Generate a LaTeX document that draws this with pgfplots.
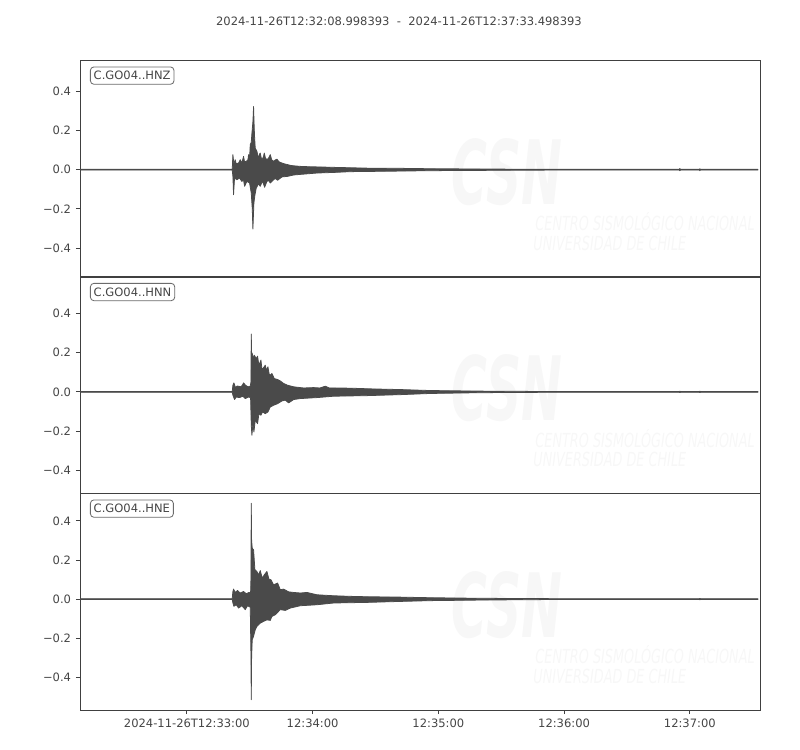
\documentclass[border=0pt]{standalone}
\usepackage{fontspec}
\setmainfont{DejaVu Sans}
\usepackage{pgfplots}
\pgfplotsset{compat=1.18}

\definecolor{ink}{gray}{0.29}
\definecolor{framecol}{gray}{0.25}
\definecolor{txt}{gray}{0.27}
\definecolor{boxcol}{gray}{0.42}
\definecolor{wm}{gray}{0.968}

\newcommand{\lbl}{\fontsize{8.3}{10}\selectfont}

\pgfplotsset{
  panel/.style={
    scale only axis, width=489.6pt, height=155.9pt,
    anchor=south west,
    xmin=0, xmax=324.5,
    axis line style={framecol, line width=0.6pt},
    tick style={framecol, line width=0.6pt},
    major tick length=2.9pt,
    tick align=outside,
    tick pos=left,
    ytick={-0.4,-0.2,0,0.2,0.4},
    yticklabels={−0.4,−0.2,0.0,0.2,0.4},
    ticklabel style={font=\lbl, text=txt},
  },
}
\tikzset{
  trace/.style={ink, fill=ink, line width=0.55pt, line join=round},
  chan/.style={draw=boxcol, rounded corners=2.5pt, fill=white, anchor=north west,
    inner xsep=2.4pt, inner ysep=3.1pt, text=txt, font=\lbl, line width=0.6pt},
}

% faint CSN watermark, same place in every panel
\newcommand{\watermark}{%
  \node[wm, font=\fontsize{64}{64}\selectfont\bfseries\itshape, xscale=0.55] at (rel axis cs:0.628,0.485) {CSN};
  \node[wm, font=\fontsize{14}{14}\selectfont\itshape, xscale=0.66, anchor=west] at (rel axis cs:0.665,0.254) {CENTRO SISMOLÓGICO NACIONAL};
  \node[wm, font=\fontsize{14}{14}\selectfont\itshape, xscale=0.66, anchor=west] at (rel axis cs:0.662,0.157) {UNIVERSIDAD DE CHILE};
}

\begin{document}
\begin{tikzpicture}
\path (0,0) rectangle (576pt,540pt);

\node[text=txt, font=\lbl] at (287.3pt,525pt)
  {2024-11-26T12:32:08.998393\ \ -\ \ 2024-11-26T12:37:33.498393};

% ---------------- HNZ ----------------
\begin{axis}[panel, at={(57.6pt,340.56pt)}, ymin=-0.548, ymax=0.558, xtick=\empty]
\watermark
\addplot[trace] coordinates {
 (0,0.002) (72.64,0.002) (72.96,0.077) (73.43,0.030) (74.07,0.051) (74.55,0.030)
 (75.66,0.034) (76.46,0.051) (77.26,0.035) (78.05,0.068) (78.53,0.040) (79.33,0.043)
 (80.12,0.050) (80.44,0.077) (80.92,0.060) (81.24,0.128) (81.72,0.140) (82.04,0.187)
 (82.51,0.245) (82.83,0.323) (83.15,0.210) (83.31,0.170) (83.63,0.110) (84.42,0.094)
 (84.90,0.070) (85.38,0.068) (85.70,0.080) (86.02,0.085) (86.50,0.060) (86.97,0.051)
 (87.61,0.070) (87.93,0.085) (88.50,0.060) (89.20,0.051) (90.00,0.060) (90.80,0.077)
 (91.50,0.050) (92.39,0.043) (93.19,0.050) (93.98,0.054) (95.00,0.040) (96.37,0.034)
 (97.50,0.030) (99.08,0.026) (100.50,0.022) (101.95,0.020) (105.13,0.017) (109.91,0.015)
 (114.69,0.014) (121.06,0.012) (129.03,0.010) (136.99,0.008) (152.92,0.007) (167.26,0.005)
 (200.71,0.003) (224.60,0.002) (286.00,0.002) (286.25,0.006) (286.50,0.002) (295.60,0.002)
 (295.80,0.005) (296.00,0.002) (323.50,0.002)
 (323.50,-0.002) (296.00,-0.002) (295.80,-0.005) (295.60,-0.002) (286.50,-0.002)
 (286.25,-0.005) (286.00,-0.002) (224.60,-0.002) (200.71,-0.003) (167.26,-0.005)
 (152.92,-0.007) (129.03,-0.010) (121.06,-0.014) (113.10,-0.017) (105.13,-0.024)
 (101.95,-0.027) (99.08,-0.034) (96.37,-0.037) (94.30,-0.054) (93.20,-0.045)
 (92.39,-0.051) (90.80,-0.068) (90.00,-0.055) (89.20,-0.060) (88.09,-0.090)
 (87.50,-0.070) (86.97,-0.060) (86.02,-0.085) (85.22,-0.072) (84.11,-0.094)
 (83.47,-0.130) (82.99,-0.170) (82.51,-0.303) (82.20,-0.200) (81.72,-0.119)
 (80.92,-0.068) (79.65,-0.060) (78.53,-0.085) (78.00,-0.050) (77.26,-0.060)
 (76.14,-0.043) (74.87,-0.051) (73.75,-0.043) (73.27,-0.128) (72.96,-0.034)
 (72.64,-0.002) (0,-0.002)
};
\node[chan] at (rel axis cs:0.0147,0.972) {C.GO04..HNZ};
\end{axis}

% ---------------- HNN ----------------
\begin{axis}[panel, at={(57.6pt,184.75pt)}, ymin=-0.517, ymax=0.586, xtick=\empty]
\watermark
\addplot[trace] coordinates {
 (0,0.002) (72.64,0.002) (72.96,0.034) (73.43,0.046) (74.23,0.022) (75.00,0.030)
 (75.66,0.029) (76.78,0.026) (77.50,0.035) (78.05,0.046) (79.01,0.034) (80.12,0.026)
 (81.24,0.029) (81.56,0.050) (81.72,0.295) (81.90,0.200) (82.19,0.196) (82.70,0.170)
 (83.15,0.187) (84.11,0.170) (84.74,0.182) (85.30,0.140) (85.70,0.145) (86.34,0.162)
 (86.80,0.120) (87.29,0.119) (88.41,0.136) (89.00,0.110) (89.68,0.128) (90.30,0.090)
 (90.80,0.085) (91.59,0.094) (92.71,0.068) (94.30,0.063) (95.58,0.056) (97.17,0.043)
 (99.08,0.034) (101.95,0.026) (106.72,0.020) (111.50,0.022) (114.50,0.020) (117.08,0.029)
 (119.00,0.020) (121.06,0.020) (129.03,0.019) (140.18,0.015) (152.92,0.012) (167.26,0.007)
 (191.15,0.004) (224.60,0.002) (286.00,0.002) (286.25,0.004) (286.50,0.002) (295.60,0.002)
 (295.80,0.004) (296.00,0.002) (323.50,0.002)
 (323.50,-0.002) (296.00,-0.002) (295.80,-0.004) (295.60,-0.002) (286.50,-0.002)
 (286.25,-0.004) (286.00,-0.002) (224.60,-0.002) (191.15,-0.004) (167.26,-0.008)
 (152.92,-0.014) (136.99,-0.019) (121.06,-0.022) (113.10,-0.029) (105.13,-0.034)
 (101.95,-0.039) (99.56,-0.056) (97.96,-0.042) (96.37,-0.046) (94.30,-0.060)
 (92.39,-0.068) (90.80,-0.077) (89.68,-0.102) (88.41,-0.111) (87.13,-0.102)
 (86.34,-0.119) (85.38,-0.111) (84.74,-0.162) (83.63,-0.145) (82.99,-0.204)
 (82.51,-0.162) (82.04,-0.221) (81.72,-0.170) (81.40,-0.029) (80.44,-0.026)
 (78.85,-0.034) (77.73,-0.022) (76.14,-0.029) (74.55,-0.026) (73.75,-0.039)
 (72.96,-0.017) (72.64,-0.002) (0,-0.002)
};
\node[chan] at (rel axis cs:0.0147,0.972) {C.GO04..HNN};
\end{axis}

% ---------------- HNE ----------------
\begin{axis}[panel, at={(57.6pt,28.8pt)}, ymin=-0.567, ymax=0.540,
  xtick={51.0016,111.0016,171.0016,231.0016,291.0016},
  xticklabels={2024-11-26T12:33:00,12:34:00,12:35:00,12:36:00,12:37:00}]
\watermark
\addplot[trace] coordinates {
 (0,0.002) (72.64,0.002) (72.96,0.039) (73.27,0.051) (74.07,0.034) (75.18,0.044)
 (76.46,0.031) (78.05,0.039) (79.33,0.027) (80.60,0.034) (81.40,0.031) (81.56,0.100)
 (81.72,0.490) (81.90,0.300) (82.19,0.260) (82.83,0.252) (83.47,0.150) (84.42,0.141)
 (85.22,0.124) (86.02,0.146) (86.97,0.107) (87.93,0.124) (89.20,0.141) (90.16,0.102)
 (91.11,0.099) (92.39,0.073) (94.30,0.082) (95.58,0.048) (97.17,0.051) (99.56,0.037)
 (101.95,0.034) (105.13,0.031) (108.32,0.034) (113.10,0.022) (121.06,0.017) (129.03,0.014)
 (136.99,0.012) (152.92,0.010) (167.26,0.007) (191.15,0.004) (229.38,0.002) (295.60,0.002)
 (295.80,0.004) (296.00,0.002) (323.50,0.002)
 (323.50,-0.002) (296.00,-0.002) (295.80,-0.004) (295.60,-0.002) (229.38,-0.002)
 (191.15,-0.005) (167.26,-0.008) (152.92,-0.012) (136.99,-0.017) (121.06,-0.020)
 (113.10,-0.029) (105.13,-0.034) (100.35,-0.046) (97.96,-0.058) (95.58,-0.054)
 (93.19,-0.080) (91.59,-0.089) (90.80,-0.109) (89.20,-0.106) (87.61,-0.114)
 (86.02,-0.123) (85.22,-0.131) (84.42,-0.140) (83.63,-0.157) (82.83,-0.190)
 (82.19,-0.208) (81.90,-0.300) (81.72,-0.514) (81.56,-0.276) (81.24,-0.041)
 (79.96,-0.034) (78.85,-0.054) (77.26,-0.034) (75.66,-0.046) (74.55,-0.029)
 (73.43,-0.037) (72.96,-0.020) (72.64,-0.002) (0,-0.002)
};
\node[chan] at (rel axis cs:0.0147,0.972) {C.GO04..HNE};
\end{axis}
\end{tikzpicture}
\end{document}
